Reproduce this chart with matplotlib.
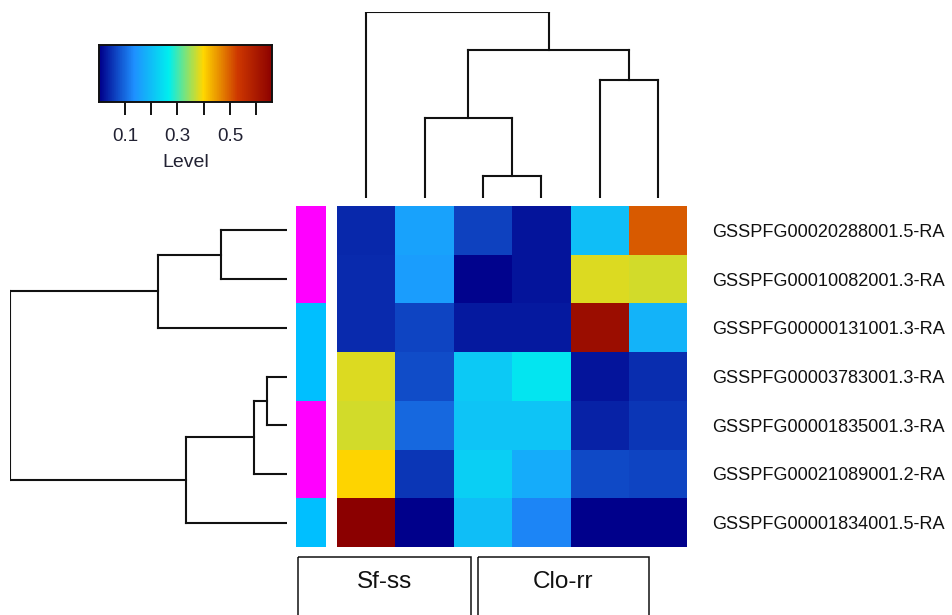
import numpy as np
import matplotlib
matplotlib.use("Agg")
import matplotlib.pyplot as plt
from matplotlib.colors import LinearSegmentedColormap
from matplotlib.patches import Rectangle

plt.rcParams['font.family'] = ['Liberation Sans', 'DejaVu Sans']

# Expression levels (rows = transcripts, cols = samples, already in dendrogram order)
genes = [
    "GSSPFG00020288001.5-RA",
    "GSSPFG00010082001.3-RA",
    "GSSPFG00000131001.3-RA",
    "GSSPFG00003783001.3-RA",
    "GSSPFG00001835001.3-RA",
    "GSSPFG00021089001.2-RA",
    "GSSPFG00001834001.5-RA",
]
levels = np.array([
    [0.041, 0.160, 0.063, 0.022, 0.200, 0.500],
    [0.044, 0.154, 0.007, 0.022, 0.379, 0.374],
    [0.044, 0.066, 0.028, 0.028, 0.627, 0.184],
    [0.380, 0.073, 0.216, 0.253, 0.022, 0.046],
    [0.374, 0.099, 0.208, 0.208, 0.036, 0.054],
    [0.400, 0.054, 0.222, 0.174, 0.070, 0.066],
    [0.660, 0.003, 0.200, 0.126, 0.003, 0.003],
])
row_group = [1, 1, 2, 2, 1, 1, 2]
sample_groups = ["Sf-ss", "Clo-rr"]

# dendrogram merges: (left, right, height), new clusters numbered from n upwards
row_merges = [(0, 1, 0.238), (7, 2, 0.466), (3, 4, 0.072),
              (9, 5, 0.119), (10, 6, 0.365), (8, 11, 1.0)]
col_merges = [(2, 3, 0.118), (1, 6, 0.432), (4, 5, 0.634),
              (7, 8, 0.796), (0, 9, 1.0)]

key_ticks = [0.1, 0.2, 0.3, 0.4, 0.5, 0.6]

palette = ["#00008B", "#1E90FF", "#00EEEE", "#FFD700", "#CD3700", "#8B0000"]
group_colors = {1: "#FF00FF", 2: "#00BFFF"}
line_col = "#111111"

cmap = LinearSegmentedColormap.from_list("lvl", palette, N=256)
vmin, vmax = levels.min(), levels.max()

W, H = 953, 615
fig = plt.figure(figsize=(W / 100, H / 100), dpi=100)


def px_axes(x0, y0, x1, y1):
    return fig.add_axes([x0 / W, 1 - y1 / H, (x1 - x0) / W, (y1 - y0) / H])


def dendro_segments(merges, n):
    pos = {i: i + 0.5 for i in range(n)}
    hgt = {i: 0.0 for i in range(n)}
    segs = []
    for k, (a, b, h) in enumerate(merges):
        segs.append(([pos[a], pos[a]], [hgt[a], h]))
        segs.append(([pos[b], pos[b]], [hgt[b], h]))
        segs.append(([pos[a], pos[b]], [h, h]))
        pos[n + k] = (pos[a] + pos[b]) / 2
        hgt[n + k] = h
    return segs


nr, nc = levels.shape

# heatmap
ax = px_axes(337, 206, 687.5, 547)
ax.pcolormesh(np.arange(nc + 1), np.arange(nr + 1), levels, cmap=cmap,
              vmin=vmin, vmax=vmax, antialiased=False)
ax.set_xlim(0, nc)
ax.set_ylim(nr, 0)
ax.set_xticks([])
ax.yaxis.tick_right()
ax.set_yticks(np.arange(nr) + 0.5)
ax.set_yticklabels(genes, fontsize=13.1, color="#111111")
ax.tick_params(axis="y", length=0, pad=17.5)
for s in ax.spines.values():
    s.set_visible(False)

# row side colours
side = px_axes(296, 206, 325.7, 547)
for i, g in enumerate(row_group):
    side.bar(0, 1, bottom=i, width=1, color=group_colors[g], align="edge")
side.set_xlim(0, 1)
side.set_ylim(nr, 0)
side.axis("off")

# row dendrogram
rd = px_axes(10, 206, 287, 547)
for xs, ys in dendro_segments(row_merges, nr):
    rd.plot(ys, xs, color=line_col, lw=1.5, solid_capstyle="projecting")
rd.set_xlim(1, 0)
rd.set_ylim(nr, 0)
rd.axis("off")

# column dendrogram
cd = px_axes(337, 12, 687.5, 198)
for xs, ys in dendro_segments(col_merges, nc):
    cd.plot(xs, ys, color=line_col, lw=1.5, solid_capstyle="projecting")
cd.set_xlim(0, nc)
cd.set_ylim(0, 1)
cd.axis("off")

# colour key
kx = px_axes(99.5, 44.5, 272, 102)
grad = np.linspace(vmin, vmax, 256)
kx.pcolormesh(grad, [0, 1], np.vstack([grad[:-1]]), cmap=cmap,
              vmin=vmin, vmax=vmax, antialiased=False)
kx.set_xlim(vmin, vmax)
kx.set_ylim(0, 1)
kx.set_yticks([])
kx.set_xticks(key_ticks)
kx.set_xticklabels([f"{t:.1f}" if i % 2 == 0 else "" for i, t in enumerate(key_ticks)],
                   fontsize=13.5, color="#222233")
kx.tick_params(axis="x", length=9, width=1.4, pad=10, color=line_col)
kx.set_xlabel("Level", fontsize=14, color="#222233", labelpad=6)
for s in kx.spines.values():
    s.set_linewidth(1.4)
    s.set_color(line_col)

# sample group boxes along the bottom
ov = fig.add_axes([0, 0, 1, 1])
ov.set_xlim(0, W)
ov.set_ylim(H, 0)
ov.axis("off")
for (x0, x1), name in zip([(298, 471), (478, 649)], sample_groups):
    ov.add_patch(Rectangle((x0, 557), x1 - x0, 80, fill=False,
                           edgecolor=line_col, lw=1.1))
    ov.text((x0 + x1) / 2, 582, name, ha="center", va="center",
            fontsize=17.5, color="#111111")

fig.savefig("out.png", dpi=100)
